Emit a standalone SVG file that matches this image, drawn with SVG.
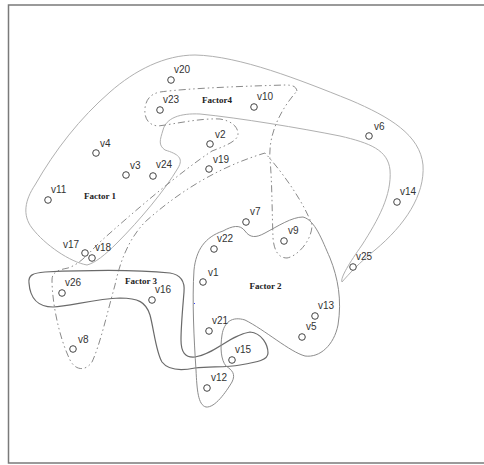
<svg xmlns="http://www.w3.org/2000/svg" width="484" height="465" viewBox="0 0 484 465">
<style>
.nd{fill:#fff;stroke:#444;stroke-width:1}
.lb{font-family:"Liberation Sans",Arial,sans-serif;font-size:10px;fill:#333}
.fc{font-family:"Liberation Serif","Times New Roman",serif;font-size:9px;font-weight:bold;fill:#222;text-anchor:middle}
.hull{fill:none}
</style>
<rect x="0" y="0" width="484" height="465" fill="#fff"/>
<rect x="8.5" y="5" width="490" height="458" fill="none" stroke="#7a7a7a" stroke-width="1.5"/>
<g id="connectors">
<path id="factor1" class="hull" stroke="#b0b0b0" stroke-width="1" d="M 87,265 C 70,262 45,245 32,228 C 22,215 25,200 35,185 C 55,150 80,118 110,92 C 135,70 165,55 195,55 C 240,56 300,80 350,100 C 390,117 420,135 423,165 C 425,195 405,225 375,250 C 360,262 348,275 342,282 C 340,278 350,262 362,245 C 378,220 392,195 390,170 C 388,150 370,143 340,136 C 300,128 240,118 200,114 C 180,113 166,118 163,130 C 160,140 158,145 165,150 C 178,154 184,158 178,168 C 165,190 140,220 117,243 C 105,255 95,263 87,265 Z"/>
<path id="factor4" class="hull" stroke="#8a8a8a" stroke-width="1" stroke-dasharray="7,3,1.5,3,1.5,3" d="M 297,91 C 296,86 292,85 285,85 C 250,86 190,88 160,92 C 150,94 146,100 145,108 C 144,118 148,125 158,126 C 175,124 200,118 220,119 C 232,121 238,127 238,134 C 238,141 225,146 212,151 C 180,172 130,215 100,242 C 88,254 80,264 68,268 C 58,270 52,272 52,280 C 52,300 58,335 70,360 C 75,370 85,372 92,362 C 100,345 108,310 115,285 C 120,262 128,240 145,222 C 175,195 215,168 265,153 C 285,175 305,205 312,225 C 312,240 298,256 287,258 C 278,258 274,250 273,238 C 272,210 272,180 270,160 C 268,135 280,110 297,91 Z"/>
<path id="factor3" class="hull" stroke="#6a6a6a" stroke-width="1.2" d="M 29,283 C 28,275 33,273 45,272 C 90,270 140,270 170,273 C 182,275 185,282 184,292 C 183,305 181,325 181,340 C 181,352 185,358 195,357 C 215,354 230,335 250,332 C 262,333 268,345 268,353 C 268,360 258,362 240,365 C 225,368 210,366 195,368 C 180,371 168,370 162,362 C 156,352 154,330 150,315 C 146,302 138,298 120,298 C 95,299 70,306 53,307 C 38,307 30,298 29,283 Z"/>
<path id="factor2" class="hull" stroke="#8c8c8c" stroke-width="1" d="M 223,231 C 232,226 240,224 245,231 C 250,238 256,238 265,233 C 278,226 292,217 303,217 C 315,220 322,240 330,258 C 338,278 342,300 338,325 C 334,345 320,358 305,356 C 290,352 265,330 245,320 C 232,316 224,322 222,335 C 220,348 221,360 226,366 C 232,370 236,374 232,382 C 226,392 215,408 206,407 C 198,405 197,390 196,370 C 194,340 192,300 194,270 C 196,250 205,237 223,231 Z"/>
</g>
<rect x="194" y="303" width="1" height="1" fill="#3344ff"/>
<g id="labels">
<text class="fc" x="100" y="199">Factor 1</text>
<text class="fc" x="217" y="102.5">Factor4</text>
<text class="fc" x="141" y="284">Factor 3</text>
<text class="fc" x="265.5" y="289">Factor 2</text>
</g>
<g id="v20"><circle class="nd" cx="171" cy="80" r="3.3"/><text class="lb" x="174" y="73">v20</text></g>
<g id="v23"><circle class="nd" cx="160" cy="110" r="3.3"/><text class="lb" x="163" y="103">v23</text></g>
<g id="v10"><circle class="nd" cx="254" cy="107" r="3.3"/><text class="lb" x="257" y="100">v10</text></g>
<g id="v6"><circle class="nd" cx="369" cy="136" r="3.3"/><text class="lb" x="374" y="130">v6</text></g>
<g id="v2"><circle class="nd" cx="210" cy="144" r="3.3"/><text class="lb" x="215" y="138">v2</text></g>
<g id="v19"><circle class="nd" cx="209" cy="169" r="3.3"/><text class="lb" x="213" y="163">v19</text></g>
<g id="v4"><circle class="nd" cx="96" cy="153" r="3.3"/><text class="lb" x="100" y="147">v4</text></g>
<g id="v3"><circle class="nd" cx="126" cy="175" r="3.3"/><text class="lb" x="130" y="169">v3</text></g>
<g id="v24"><circle class="nd" cx="153" cy="176" r="3.3"/><text class="lb" x="156" y="168">v24</text></g>
<g id="v11"><circle class="nd" cx="48" cy="200" r="3.3"/><text class="lb" x="51" y="193">v11</text></g>
<g id="v14"><circle class="nd" cx="397" cy="202" r="3.3"/><text class="lb" x="400" y="195">v14</text></g>
<g id="v7"><circle class="nd" cx="246" cy="222" r="3.3"/><text class="lb" x="250" y="215">v7</text></g>
<g id="v9"><circle class="nd" cx="284" cy="241" r="3.3"/><text class="lb" x="288" y="234">v9</text></g>
<g id="v22"><circle class="nd" cx="214" cy="249" r="3.3"/><text class="lb" x="217" y="242">v22</text></g>
<g id="v17"><circle class="nd" cx="85" cy="253" r="3.3"/><text class="lb" x="63" y="248">v17</text></g>
<g id="v18"><circle class="nd" cx="92" cy="258" r="3.3"/><text class="lb" x="95" y="251">v18</text></g>
<g id="v25"><circle class="nd" cx="353" cy="267" r="3.3"/><text class="lb" x="356" y="260">v25</text></g>
<g id="v1"><circle class="nd" cx="203" cy="282" r="3.3"/><text class="lb" x="208" y="276">v1</text></g>
<g id="v26"><circle class="nd" cx="62" cy="293" r="3.3"/><text class="lb" x="65" y="286">v26</text></g>
<g id="v16"><circle class="nd" cx="152" cy="300" r="3.3"/><text class="lb" x="155" y="293">v16</text></g>
<g id="v13"><circle class="nd" cx="315" cy="316" r="3.3"/><text class="lb" x="318" y="309">v13</text></g>
<g id="v5"><circle class="nd" cx="302" cy="337" r="3.3"/><text class="lb" x="306" y="330">v5</text></g>
<g id="v21"><circle class="nd" cx="209" cy="331" r="3.3"/><text class="lb" x="212" y="324">v21</text></g>
<g id="v8"><circle class="nd" cx="73" cy="349" r="3.3"/><text class="lb" x="78" y="343">v8</text></g>
<g id="v15"><circle class="nd" cx="232" cy="360" r="3.3"/><text class="lb" x="235" y="353">v15</text></g>
<g id="v12"><circle class="nd" cx="207" cy="388" r="3.3"/><text class="lb" x="211" y="381">v12</text></g>
</svg>
